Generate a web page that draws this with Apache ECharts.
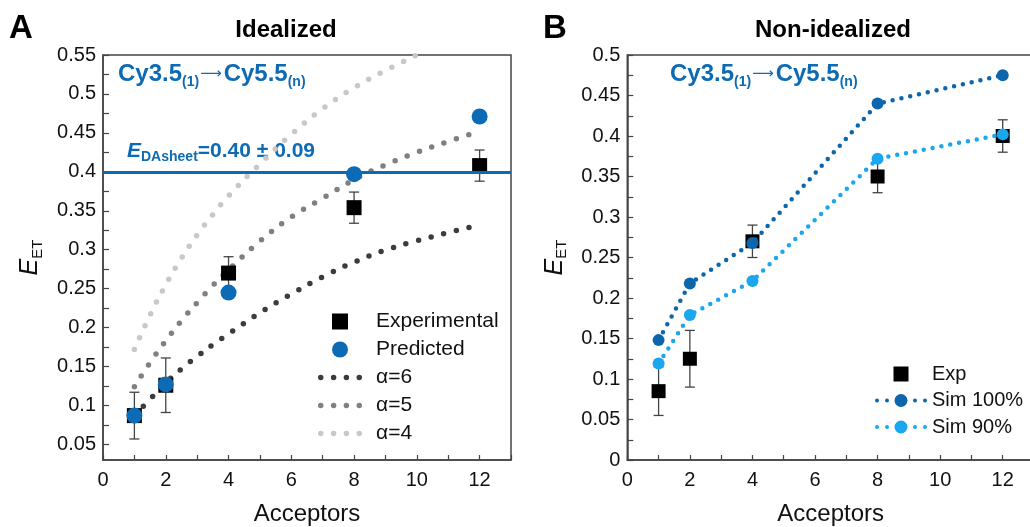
<!DOCTYPE html>
<html>
<head>
<meta charset="utf-8">
<script src="https://cdn.jsdelivr.net/npm/echarts@6/dist/echarts.min.js"></script>
<style>
html,body{margin:0;padding:0;background:#fff;}
#chart{width:1030px;height:527px;}
</style>
</head>
<body>
<div id="chart"></div>
<script>
// ---------- data ----------
const acceptors = [1, 2, 4, 8, 12];

// Panel A (Idealized)
const expIdeal = [0.087, 0.126, 0.270, 0.354, 0.408];
const expIdealErr = [0.030, 0.035, 0.021, 0.020, 0.020];
const predIdeal = [0.087, 0.127, 0.245, 0.397, 0.471];
const sheetValue = 0.40;

const alphaX = [1, 1.5, 2, 2.5, 3, 3.5, 4, 5, 6, 7, 8, 9, 10, 11, 12];
const alpha6 = [0.087, 0.108, 0.129, 0.147, 0.163, 0.178, 0.192, 0.219, 0.243, 0.265, 0.284, 0.2995, 0.3115, 0.322, 0.332];
const alpha5 = [0.124, 0.155, 0.183, 0.209, 0.232, 0.254, 0.274, 0.311, 0.342, 0.366, 0.390, 0.409, 0.425, 0.439, 0.452];
const alpha4 = [0.172, 0.216, 0.255, 0.289, 0.319, 0.345, 0.369, 0.410, 0.448, 0.481, 0.508, 0.530, 0.550, null, null];

// Panel B (Non-idealized)
const expNon = [0.085, 0.125, 0.270, 0.350, 0.400];
const expNonErr = [0.030, 0.035, 0.020, 0.020, 0.020];
const sim100 = [0.148, 0.218, 0.268, 0.440, 0.475];
const sim90 = [0.119, 0.179, 0.221, 0.372, 0.402];

// ticks
const xTickLabels = [0, 2, 4, 6, 8, 10, 12];
const yLabelsA = [0.05, 0.1, 0.15, 0.2, 0.25, 0.3, 0.35, 0.4, 0.45, 0.5, 0.55];
const yLabelsB = [0, 0.05, 0.1, 0.15, 0.2, 0.25, 0.3, 0.35, 0.4, 0.45, 0.5];

// ---------- helpers ----------
const FONT = 'Liberation Sans, Arial, Helvetica, sans-serif';
const AXIS_COLOR = '#444';
const BLUE = '#0d6bb5';
const C6 = '#3c3c3c', C5 = '#808080', C4 = '#c8c8c8';
const CS100 = '#0c66ac', CS90 = '#1aa7ef';
const pairs = (xs, ys) => xs.map((x, i) => [x, ys[i]]);

function yMinorTicks(lo, hi) {
  const out = [];
  for (let v = Math.round(lo * 1000); v <= Math.round(hi * 1000); v += 25) out.push(v / 1000);
  return out;
}
// legend icon paths
const circ = (cx, cy, r) => `M${cx - r},${cy} a${r},${r} 0 1,0 ${2 * r},0 a${r},${r} 0 1,0 ${-2 * r},0 z`;
const ICON_SQUARE = 'path://M0,0 h14 v14 h-14 z';
const ICON_CIRCLE = 'path://' + circ(8, 8, 8);
const ICON_DOTS = 'path://' + [2.75, 15.6, 28.4, 41.25].map(cx => circ(cx, 2.75, 2.75)).join(' ');
const ICON_SIM = 'path://' + [circ(2, 7.5, 2), circ(12, 7.5, 2), circ(26, 7.5, 6.5), circ(40, 7.5, 2), circ(50, 7.5, 2)].join(' ');

function errorSeries(xi, yi, vals, errs) {
  return {
    type: 'custom',
    xAxisIndex: xi, yAxisIndex: yi,
    silent: true, z: 2,
    data: acceptors.map((x, i) => [x, vals[i] - errs[i], vals[i] + errs[i]]),
    renderItem: function (params, api) {
      const x = api.value(0);
      const lo = api.coord([x, api.value(1)]);
      const hi = api.coord([x, api.value(2)]);
      const w = 5;
      const st = { stroke: '#444', lineWidth: 1.3 };
      return {
        type: 'group',
        children: [
          { type: 'line', shape: { x1: lo[0], y1: lo[1], x2: hi[0], y2: hi[1] }, style: st },
          { type: 'line', shape: { x1: lo[0] - w, y1: lo[1], x2: lo[0] + w, y2: lo[1] }, style: st },
          { type: 'line', shape: { x1: hi[0] - w, y1: hi[1], x2: hi[0] + w, y2: hi[1] }, style: st }
        ]
      };
    }
  };
}

function xAxisDef(gridIndex) {
  return {
    type: 'value', gridIndex: gridIndex, min: 0, max: 13, interval: 1,
    axisLine: { show: true, lineStyle: { color: AXIS_COLOR, width: 1.5 } },
    axisTick: { show: true, inside: true, length: 5, lineStyle: { color: AXIS_COLOR, width: 1.2 } },
    axisLabel: {
      fontSize: 20, color: '#111', fontFamily: FONT, margin: 10,
      formatter: v => (xTickLabels.indexOf(v) >= 0 ? String(v) : '')
    },
    splitLine: { show: false },
    name: 'Acceptors', nameLocation: 'middle', nameGap: 42,
    nameTextStyle: { fontSize: 24, color: '#111', fontFamily: FONT }
  };
}

const yNameStyle = {
  fontFamily: FONT, color: '#111',
  rich: {
    e: { fontSize: 25, fontStyle: 'italic', fontFamily: FONT, color: '#111' },
    s: { fontSize: 15, fontFamily: FONT, color: '#111', padding: [14, 0, 0, 0] }
  }
};

const fmt = v => String(parseFloat(v.toFixed(3)));

const cyRich = {
  a: { fontSize: 24, fontWeight: 'bold', fontFamily: FONT, fill: BLUE, color: BLUE },
  r: { fontSize: 15, fontWeight: 'normal', fontFamily: 'DejaVu Sans, ' + FONT, fill: BLUE, color: BLUE, padding: [0, 2, 0, 1] },
  s: { fontSize: 14, fontWeight: 'bold', fontFamily: FONT, fill: BLUE, color: BLUE, padding: [16, 0, 0, 0] }
};
const cyText = '{a|Cy3.5}{s|(1)}{r|⟶}{a|Cy5.5}{s|(n)}';

const gridCommon = { show: true, borderColor: AXIS_COLOR, borderWidth: 1.5, backgroundColor: 'transparent', containLabel: false, outerBoundsMode: 'none' };

const option = {
  animation: false,
  backgroundColor: '#fff',
  textStyle: { fontFamily: FONT },
  grid: [
    Object.assign({ left: 103, top: 55, width: 408, height: 405 }, gridCommon),
    Object.assign({ left: 627.3, top: 55, width: 406.7, height: 405 }, gridCommon)
  ],
  xAxis: [xAxisDef(0), xAxisDef(1)],
  yAxis: [
    {
      type: 'value', gridIndex: 0, min: 0.03, max: 0.55,
      axisLine: { show: true, lineStyle: { color: AXIS_COLOR, width: 1.5 } },
      axisTick: { show: true, inside: true, length: 6, customValues: yMinorTicks(0.05, 0.55), lineStyle: { color: AXIS_COLOR, width: 1.2 } },
      axisLabel: { fontSize: 20, color: '#111', fontFamily: FONT, margin: 7, customValues: yLabelsA, formatter: fmt },
      splitLine: { show: false },
      name: '{e|E}{s|ET}', nameLocation: 'middle', nameGap: 58,
      nameTextStyle: yNameStyle
    },
    {
      type: 'value', gridIndex: 1, min: 0, max: 0.5,
      axisLine: { show: true, lineStyle: { color: AXIS_COLOR, width: 1.5 } },
      axisTick: { show: true, inside: true, length: 6, customValues: yMinorTicks(0, 0.5), lineStyle: { color: AXIS_COLOR, width: 1.2 } },
      axisLabel: { fontSize: 20, color: '#111', fontFamily: FONT, margin: 7, customValues: yLabelsB, formatter: fmt },
      splitLine: { show: false },
      name: '{e|E}{s|ET}', nameLocation: 'middle', nameGap: 58,
      nameTextStyle: yNameStyle
    }
  ],
  legend: [
    {
      orient: 'vertical', left: 318, top: 311, padding: 0,
      itemWidth: 44, itemHeight: 16, itemGap: 7, symbolKeepAspect: true,
      textStyle: { fontSize: 21, color: '#111', fontFamily: FONT, padding: [0, 0, 0, 9] },
      data: [
        { name: 'Experimental', icon: ICON_SQUARE },
        { name: 'Predicted', icon: ICON_CIRCLE },
        { name: 'α=6', icon: ICON_DOTS },
        { name: 'α=5', icon: ICON_DOTS },
        { name: 'α=4', icon: ICON_DOTS }
      ],
      selectedMode: false
    },
    {
      orient: 'vertical', left: 875, top: 364, padding: 0,
      itemWidth: 52, itemHeight: 15, itemGap: 6.5, symbolKeepAspect: true,
      textStyle: { fontSize: 20, color: '#111', fontFamily: FONT },
      data: [
        { name: 'Exp', icon: ICON_SQUARE },
        { name: 'Sim 100%', icon: ICON_SIM },
        { name: 'Sim 90%', icon: ICON_SIM }
      ],
      selectedMode: false
    }
  ],
  graphic: [
    { type: 'text', left: 9, top: 12, style: { text: 'A', font: 'bold 33px ' + FONT, fill: '#000' } },
    { type: 'text', left: 543, top: 12, style: { text: 'B', font: 'bold 33px ' + FONT, fill: '#000' } },
    { type: 'text', x: 286, y: 18, style: { text: 'Idealized', font: 'bold 24px ' + FONT, fill: '#000', textAlign: 'center' } },
    { type: 'text', x: 833, y: 18, style: { text: 'Non-idealized', font: 'bold 24px ' + FONT, fill: '#000', textAlign: 'center' } },
    { type: 'text', x: 118, y: 59, style: { text: cyText, rich: cyRich } },
    { type: 'text', x: 670, y: 59, style: { text: cyText, rich: cyRich } },
    {
      type: 'text', x: 127, y: 138,
      style: {
        text: '{e|E}{s|DAsheet}{a|=0.40 ± 0.09}',
        rich: {
          e: { fontSize: 21, fontWeight: 'bold', fontStyle: 'italic', fontFamily: FONT, fill: BLUE, color: BLUE },
          a: { fontSize: 21, fontWeight: 'bold', fontFamily: FONT, fill: BLUE, color: BLUE },
          s: { fontSize: 14, fontWeight: 'bold', fontFamily: FONT, fill: BLUE, color: BLUE, padding: [12, 0, 0, 0] }
        }
      }
    }
  ],
  series: [
    // Panel A curves
    {
      name: 'α=4', type: 'line', xAxisIndex: 0, yAxisIndex: 0, smooth: true, symbol: 'none', z: 1,
      data: pairs(alphaX, alpha4), color: C4, itemStyle: { color: C4 },
      lineStyle: { color: C4, width: 5.5, type: [0, 13], cap: 'round' }
    },
    {
      name: 'α=5', type: 'line', xAxisIndex: 0, yAxisIndex: 0, smooth: true, symbol: 'none', z: 1,
      data: pairs(alphaX, alpha5), color: C5, itemStyle: { color: C5 },
      lineStyle: { color: C5, width: 5.5, type: [0, 13], cap: 'round' }
    },
    {
      name: 'α=6', type: 'line', xAxisIndex: 0, yAxisIndex: 0, smooth: true, symbol: 'none', z: 1,
      data: pairs(alphaX, alpha6), color: C6, itemStyle: { color: C6 },
      lineStyle: { color: C6, width: 5.5, type: [0, 13], cap: 'round' },
      markLine: {
        silent: true, symbol: 'none', label: { show: false },
        lineStyle: { color: BLUE, width: 3, type: 'solid' },
        data: [{ yAxis: sheetValue }]
      }
    },
    errorSeries(0, 0, expIdeal, expIdealErr),
    {
      name: 'Experimental', type: 'scatter', xAxisIndex: 0, yAxisIndex: 0, z: 3,
      symbol: 'rect', symbolSize: 15, data: pairs(acceptors, expIdeal),
      itemStyle: { color: '#000', opacity: 1 }
    },
    {
      name: 'Predicted', type: 'scatter', xAxisIndex: 0, yAxisIndex: 0, z: 4,
      symbol: 'circle', symbolSize: 16, data: pairs(acceptors, predIdeal),
      itemStyle: { color: BLUE, opacity: 1 }
    },
    // Panel B
    errorSeries(1, 1, expNon, expNonErr),
    {
      name: 'Exp', type: 'scatter', xAxisIndex: 1, yAxisIndex: 1, z: 3,
      symbol: 'rect', symbolSize: 14, data: pairs(acceptors, expNon),
      itemStyle: { color: '#000', opacity: 1 }
    },
    {
      name: 'Sim 100%', type: 'line', xAxisIndex: 1, yAxisIndex: 1, z: 4,
      symbol: 'circle', symbolSize: 12, showSymbol: true, data: pairs(acceptors, sim100),
      color: CS100, itemStyle: { color: CS100, opacity: 1 },
      lineStyle: { color: CS100, width: 4.5, type: [0, 9], cap: 'round' }
    },
    {
      name: 'Sim 90%', type: 'line', xAxisIndex: 1, yAxisIndex: 1, z: 4,
      symbol: 'circle', symbolSize: 12, showSymbol: true, data: pairs(acceptors, sim90),
      color: CS90, itemStyle: { color: CS90, opacity: 1 },
      lineStyle: { color: CS90, width: 4.5, type: [0, 9], cap: 'round' }
    }
  ]
};

const chart = echarts.init(document.getElementById('chart'), null, { renderer: 'canvas' });
chart.setOption(option);
</script>
</body>
</html>
